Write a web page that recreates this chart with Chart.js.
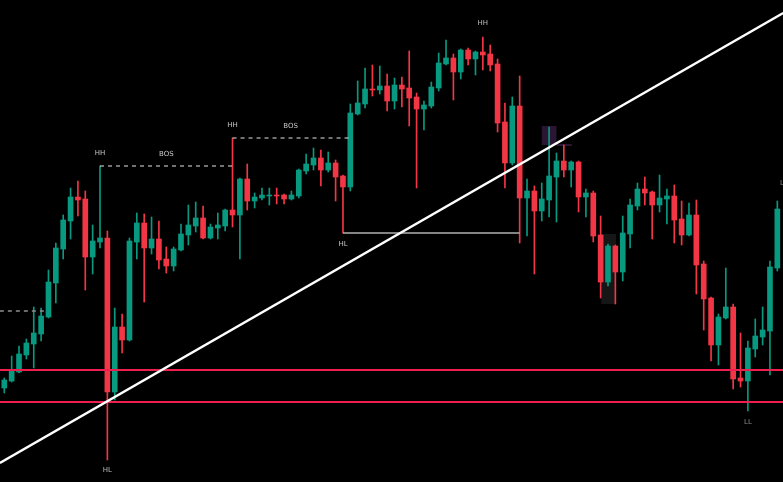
<!DOCTYPE html>
<html>
<head>
<meta charset="utf-8">
<script src="https://cdn.jsdelivr.net/npm/chart.js@4.4.1/dist/chart.umd.min.js"></script>
<style>
  html, body { margin: 0; padding: 0; background: #000; }
  #wrap { width: 783px; height: 482px; }
</style>
</head>
<body>
<div id="wrap"><canvas id="chart" width="783" height="482"></canvas></div>
<script>
// ── Candles (price units, one entry per bar) ──
const opens  = [94,101,110,127,138,148,165,199,233,261,285,283,225,240,244,90,155,142,240,259,
                234,243,223,216,232,247,256,264,244,254,256,272,267,303,281,284,286,287,287,283,
                286,311,317,324,312,319,306,295,368,378,393,392,396,381,397,394,385,373,376,394,
                418,424,410,432,423,430,428,418,360,319,376,284,291,271,282,305,321,312,320,285,
                289,247,200,236,210,248,276,293,290,277,283,286,263,247,267,218,184,137,164,175,
                104,101,133,145,151,214];
const highs  = [104,126,136,143,175,174,212,239,267,294,301,291,257,316,251,174,168,244,269,268,
                265,261,235,235,258,277,280,276,258,269,273,344,304,318,289,294,294,294,288,291,
                313,328,334,332,330,322,307,378,401,414,417,416,408,404,405,431,389,381,400,429,
                442,428,433,434,431,445,437,423,379,385,406,303,296,299,355,329,337,321,321,293,
                291,266,238,237,266,283,299,305,291,307,293,297,281,279,282,221,185,168,214,178,
                149,141,163,175,221,281];
const lows   = [89,100,109,123,114,141,164,179,223,243,266,192,208,234,22,82,129,141,223,180,
                228,213,209,211,231,237,250,243,243,243,251,255,223,272,274,282,277,278,278,282,
                284,308,312,296,310,281,249,291,367,374,386,388,371,373,375,356,294,352,374,391,
                417,382,403,417,407,412,411,350,294,317,239,246,208,261,265,260,305,295,270,265,
                240,184,196,178,201,234,272,277,243,270,258,239,237,246,188,152,121,117,163,93,
                95,71,125,137,107,211];
const closes = [102,111,128,139,149,166,200,234,262,285,282,225,241,244,90,155,142,241,259,234,
                243,222,216,233,248,257,264,244,255,257,272,267,303,281,285,287,287,286,283,287,
                312,318,324,312,319,305,295,369,379,393,392,396,381,397,393,384,373,377,395,419,
                424,410,432,423,430,427,417,359,319,376,284,291,271,283,306,321,312,320,285,289,
                246,200,236,210,249,277,293,289,277,284,286,262,247,267,217,183,137,165,175,103,
                101,134,146,152,215,273];

// ── Structure levels ──
const supportLevels = [112, 80];
const trendStart = { x: -0.6, y: 19 };
const trendEnd   = { x: 105.8, y: 469 };
const oldLevel   = { from: -0.6, to: 5.7, y: 171 };
const bosLevels  = [ { from: 13, to: 31, y: 316 }, { from: 31, to: 47, y: 344 } ];
const hlLevel    = { from: 46, to: 70, y: 249 };

// ── Labels: [text, candle index, price, colour] ──
const labels = [
  ["HH", 13, 329, "#c8c8c8"], ["BOS", 22, 328, "#c8c8c8"],
  ["HH", 31, 357, "#c8c8c8"], ["BOS", 38.9, 356, "#c8c8c8"],
  ["HL", 46, 238, "#c8c8c8"], ["HL", 14, 12, "#bdbdbd"],
  ["HH", 65, 459, "#bdbdbd"], ["LL", 101, 60, "#8a8a8a"],
  ["LH", 106.0, 299, "#8a8a8a"]
];

// ── Zones: [from index, to index, low price, high price, colour] ──
const zones = [
  [73.0, 75.0, 337, 356, "#2a1633"],
  [75.0, 77.1, 336, 338, "#2a1633"],
  [81.1, 83.1, 178, 248, "#161616"]
];

const UP = "#089981", DOWN = "#f23645";
const idx = opens.map((_, i) => i);
const colors = idx.map(i => closes[i] >= opens[i] ? UP : DOWN);

const seg = (a, b, y) => [{ x: a, y: y }, { x: b, y: y }];
const lineDs = (data, color, width, dash) => ({
  type: "line", data, borderColor: color, borderWidth: width, borderDash: dash || [],
  pointRadius: 0, fill: false, order: 0, tension: 0
});

// zones underneath, labels on top
const overlay = {
  id: "overlay",
  beforeDatasetsDraw(chart) {
    const { ctx, scales: { x, y } } = chart;
    zones.forEach(([a, b, lo, hi, col]) => {
      ctx.fillStyle = col;
      const x0 = x.getPixelForValue(a), x1 = x.getPixelForValue(b);
      const y0 = y.getPixelForValue(hi), y1 = y.getPixelForValue(lo);
      ctx.fillRect(x0, y0, x1 - x0, y1 - y0);
    });
  },
  afterDatasetsDraw(chart) {
    const { ctx, scales: { x, y } } = chart;
    ctx.save();
    ctx.font = "7px 'DejaVu Sans'";
    ctx.textAlign = "center";
    ctx.textBaseline = "middle";
    labels.forEach(([t, i, p, col]) => {
      ctx.fillStyle = col;
      ctx.fillText(t, x.getPixelForValue(i), y.getPixelForValue(p));
    });
    ctx.restore();
  }
};

new Chart(document.getElementById("chart"), {
  type: "bar",
  data: {
    datasets: [
      lineDs([trendStart, trendEnd], "#ffffff", 2.5),
      ...supportLevels.map(v => lineDs(seg(-0.6, 105.8, v), "#ec1f4e", 2)),
      lineDs(seg(oldLevel.from, oldLevel.to, oldLevel.y), "#8c8c8c", 1.5, [4, 4]),
      ...bosLevels.map(l => lineDs(seg(l.from, l.to, l.y), "#e6e6e6", 1.2, [4, 4])),
      lineDs(seg(hlLevel.from, hlLevel.to, hlLevel.y), "#b0b0b0", 1.3),
      {
        data: idx.map(i => ({ x: i, y: [opens[i], closes[i]] })),
        backgroundColor: colors, barThickness: 5, grouped: false, order: 1
      },
      {
        data: idx.map(i => ({ x: i, y: [lows[i], highs[i]] })),
        backgroundColor: colors, barThickness: 1, grouped: false, order: 2
      }
    ]
  },
  options: {
    responsive: false,
    animation: false,
    layout: { padding: 0 },
    plugins: { legend: { display: false }, tooltip: { enabled: false } },
    scales: {
      x: { type: "linear", min: -0.584, max: 105.77, display: false, offset: false },
      y: { min: 0, max: 482, display: false }
    }
  },
  plugins: [overlay]
});
</script>
</body>
</html>
